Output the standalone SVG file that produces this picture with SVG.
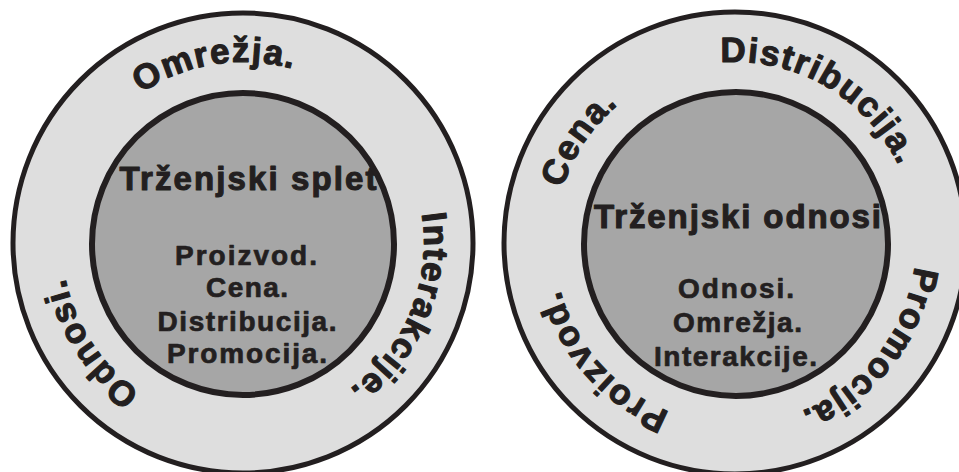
<svg xmlns="http://www.w3.org/2000/svg" xmlns:xlink="http://www.w3.org/1999/xlink" width="959" height="472" viewBox="0 0 959 472">
  <style>
    .outer { fill: #dedede; stroke: #231f20; stroke-width: 5; }
    .innerfill { fill: #a6a6a6; stroke: none; }
    .innerline { fill: none; stroke: #231f20; stroke-width: 6; }
    .t { font-family: "Liberation Sans", Arial, sans-serif; font-weight: bold; fill: #231f20; stroke: #231f20; stroke-linejoin: round; }
    .ring { font-size: 35px; letter-spacing: 1.5px; stroke-width: 1.1; }
    .title { font-size: 33px; text-anchor: middle; stroke-width: 1.1; }
    .item { font-size: 28px; text-anchor: middle; stroke-width: 0.7; }
  </style>
  <defs>
    <path id="ringL" d="M 243,424 A 181,181 0 1,1 243,62 A 181,181 0 1,1 243,424"/>
    <path id="ringR" d="M 735,424 A 181,181 0 1,1 735,62 A 181,181 0 1,1 735,424"/>
  </defs>
  <rect width="959" height="472" fill="#ffffff"/>

  <g id="left-ring">
    <circle class="outer" cx="243" cy="243" r="230"/>
    <text class="t ring" text-anchor="middle"><textPath xlink:href="#ringL" href="#ringL" startOffset="47.5%">Omrežja.</textPath></text>
    <text class="t ring" text-anchor="middle"><textPath xlink:href="#ringL" href="#ringL" startOffset="81.25%">Interakcije.</textPath></text>
    <text class="t ring" text-anchor="middle"><textPath xlink:href="#ringL" href="#ringL" startOffset="15.8%">Odnosi.</textPath></text>
  </g>

  <g id="left-core">
    <circle class="innerfill" cx="243" cy="244" r="151"/>
    <text class="t title" x="248" y="190" textLength="257" lengthAdjust="spacing">Trženjski splet</text>
    <text class="t item" x="246" y="265" textLength="142" lengthAdjust="spacing">Proizvod.</text>
    <text class="t item" x="247" y="297" textLength="82" lengthAdjust="spacing">Cena.</text>
    <text class="t item" x="247" y="331" textLength="179" lengthAdjust="spacing">Distribucija.</text>
    <text class="t item" x="247" y="363" textLength="160" lengthAdjust="spacing">Promocija.</text>
    <circle class="innerline" cx="243" cy="244" r="151"/>
  </g>

  <g id="right-ring">
    <circle class="outer" cx="735" cy="243" r="231"/>
    <text class="t ring" text-anchor="middle"><textPath xlink:href="#ringR" href="#ringR" startOffset="34.4%">Cena.</textPath></text>
    <text class="t ring" text-anchor="middle"><textPath xlink:href="#ringR" href="#ringR" startOffset="58.4%">Distribucija.</textPath></text>
    <text class="t ring" text-anchor="middle"><textPath xlink:href="#ringR" href="#ringR" startOffset="85.6%">Promocija.</textPath></text>
    <text class="t ring" text-anchor="middle"><textPath xlink:href="#ringR" href="#ringR" startOffset="13.4%">Proizvod.</textPath></text>
  </g>

  <g id="right-core">
    <circle class="innerfill" cx="736" cy="244" r="152"/>
    <text class="t title" x="737.5" y="228" textLength="287" lengthAdjust="spacing">Trženjski odnosi</text>
    <text class="t item" x="736" y="298" textLength="116" lengthAdjust="spacing">Odnosi.</text>
    <text class="t item" x="737.5" y="332" textLength="129" lengthAdjust="spacing">Omrežja.</text>
    <text class="t item" x="735.5" y="366" textLength="163" lengthAdjust="spacing">Interakcije.</text>
    <circle class="innerline" cx="736" cy="244" r="152"/>
  </g>
</svg>
